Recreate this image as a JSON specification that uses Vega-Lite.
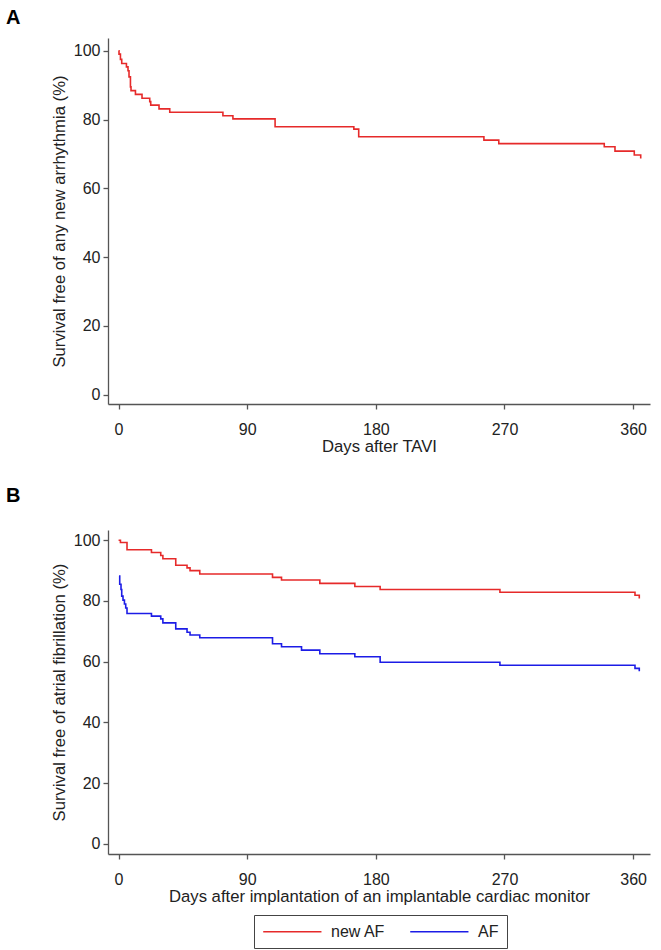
{
  "$schema": "https://vega.github.io/schema/vega-lite/v6.json",
  "background": "white",
  "padding": {"left": 6, "top": 8, "right": 5, "bottom": 5},
  "config": {
    "font": "Liberation Sans",
    "view": {"stroke": null},
    "axis": {
      "domainColor": "#555555",
      "tickColor": "#555555",
      "domainWidth": 1.3,
      "tickWidth": 1.3,
      "tickSize": 5,
      "labelColor": "#222222",
      "titleColor": "#222222",
      "labelFontSize": 16,
      "titleFontSize": 16.7,
      "titleFontWeight": "normal",
      "labelPadding": 12,
      "grid": false
    },
    "title": {"fontSize": 20, "fontWeight": "bold", "color": "#000000", "anchor": "start", "frame": "group"}
  },
  "datasets": {
    "A": [
      {"day": 0, "surv": 100},
      {"day": 0.3, "surv": 99},
      {"day": 1.3, "surv": 97.5},
      {"day": 2.2, "surv": 96.3},
      {"day": 5.5, "surv": 95.3},
      {"day": 6.6, "surv": 94.2},
      {"day": 7.3, "surv": 92.4},
      {"day": 8.3, "surv": 89.5},
      {"day": 8.7, "surv": 88.4},
      {"day": 11.8, "surv": 87.3},
      {"day": 16.4, "surv": 86.2},
      {"day": 21.8, "surv": 85.2},
      {"day": 22.5, "surv": 84.2},
      {"day": 28.3, "surv": 83.1},
      {"day": 35.8, "surv": 82.1},
      {"day": 73, "surv": 81.1},
      {"day": 80, "surv": 80.2},
      {"day": 109.5, "surv": 77.9},
      {"day": 164.6, "surv": 77.2},
      {"day": 168, "surv": 75},
      {"day": 255.6, "surv": 74},
      {"day": 266, "surv": 73},
      {"day": 339.8, "surv": 72.1},
      {"day": 347.3, "surv": 70.8},
      {"day": 360.8, "surv": 69.7},
      {"day": 365.3, "surv": 68.7}
    ],
    "B": [
      {"group": "new AF", "day": 0, "surv": 100},
      {"group": "new AF", "day": 1.3, "surv": 99.3},
      {"group": "new AF", "day": 5.9, "surv": 96.9},
      {"group": "new AF", "day": 23, "surv": 96},
      {"group": "new AF", "day": 29.5, "surv": 95},
      {"group": "new AF", "day": 31, "surv": 93.9},
      {"group": "new AF", "day": 40, "surv": 91.8},
      {"group": "new AF", "day": 47.9, "surv": 90.9},
      {"group": "new AF", "day": 50, "surv": 90},
      {"group": "new AF", "day": 56.8, "surv": 88.9},
      {"group": "new AF", "day": 107.7, "surv": 87.8},
      {"group": "new AF", "day": 114, "surv": 86.9},
      {"group": "new AF", "day": 140.8, "surv": 85.8},
      {"group": "new AF", "day": 165.3, "surv": 84.8},
      {"group": "new AF", "day": 183, "surv": 83.8},
      {"group": "new AF", "day": 266.8, "surv": 82.9},
      {"group": "new AF", "day": 361.3, "surv": 81.9},
      {"group": "new AF", "day": 364.3, "surv": 80.8},
      {"group": "AF", "day": 0.3, "surv": 88.2},
      {"group": "AF", "day": 0.8, "surv": 85.5},
      {"group": "AF", "day": 1.7, "surv": 83.8},
      {"group": "AF", "day": 2.2, "surv": 81.6},
      {"group": "AF", "day": 3.1, "surv": 80.3},
      {"group": "AF", "day": 4.1, "surv": 79},
      {"group": "AF", "day": 5, "surv": 77.7},
      {"group": "AF", "day": 5.9, "surv": 75.9},
      {"group": "AF", "day": 23, "surv": 75},
      {"group": "AF", "day": 29.5, "surv": 74.1},
      {"group": "AF", "day": 31, "surv": 72.8},
      {"group": "AF", "day": 40, "surv": 70.8},
      {"group": "AF", "day": 47.9, "surv": 69.7},
      {"group": "AF", "day": 50, "surv": 68.8},
      {"group": "AF", "day": 56.8, "surv": 67.9},
      {"group": "AF", "day": 107.7, "surv": 65.9},
      {"group": "AF", "day": 114, "surv": 64.9},
      {"group": "AF", "day": 128, "surv": 63.8},
      {"group": "AF", "day": 140.8, "surv": 62.6},
      {"group": "AF", "day": 165.3, "surv": 61.6},
      {"group": "AF", "day": 183, "surv": 59.8},
      {"group": "AF", "day": 266.8, "surv": 58.8},
      {"group": "AF", "day": 361.3, "surv": 57.8},
      {"group": "AF", "day": 364.3, "surv": 56.8}
    ]
  },
  "spacing": 31,
  "vconcat": [
    {
      "title": {"text": "A", "dx": -102, "offset": 10},
      "width": 542,
      "height": 366,
      "data": {"name": "A"},
      "mark": {"type": "line", "interpolate": "step-after", "color": "#e62a2a", "strokeWidth": 1.6},
      "encoding": {
        "x": {
          "field": "day", "type": "quantitative",
          "scale": {"domain": [-7.4, 371.8], "nice": false, "zero": false},
          "axis": {"values": [0, 90, 180, 270, 360], "title": "Days after TAVI", "titlePadding": 1}
        },
        "y": {
          "field": "surv", "type": "quantitative",
          "scale": {"domain": [-2.7, 103.7], "nice": false, "zero": false},
          "axis": {"values": [0, 20, 40, 60, 80, 100], "title": "Survival free of any new arrhythmia (%)", "titlePadding": 5, "labelPadding": 3}
        }
      }
    },
    {
      "title": {"text": "B", "dx": -102, "offset": 24},
      "width": 542,
      "height": 324,
      "data": {"name": "B"},
      "mark": {"type": "line", "interpolate": "step-after", "strokeWidth": 1.6},
      "encoding": {
        "x": {
          "field": "day", "type": "quantitative",
          "scale": {"domain": [-7.4, 371.8], "nice": false, "zero": false},
          "axis": {"values": [0, 90, 180, 270, 360], "title": "Days after implantation of an implantable cardiac monitor", "titlePadding": 1}
        },
        "y": {
          "field": "surv", "type": "quantitative",
          "scale": {"domain": [-3.4, 103.4], "nice": false, "zero": false},
          "axis": {"values": [0, 20, 40, 60, 80, 100], "title": "Survival free of atrial fibrillation (%)", "titlePadding": 5, "labelPadding": 3}
        },
        "color": {
          "field": "group", "type": "nominal",
          "scale": {"domain": ["new AF", "AF"], "range": ["#e62a2a", "#1c1ce6"]},
          "legend": {
            "title": null,
            "orient": "none",
            "legendX": 146,
            "legendY": 877,
            "direction": "horizontal",
            "symbolType": "M-1,0H7",
            "symbolSize": 212,
            "symbolStrokeWidth": 1.6,
            "labelFontSize": 16,
            "labelColor": "#222222",
            "labelOffset": 52,
            "columnPadding": 21,
            "padding": 8,
            "strokeColor": "#444444"
          }
        }
      }
    }
  ]
}
